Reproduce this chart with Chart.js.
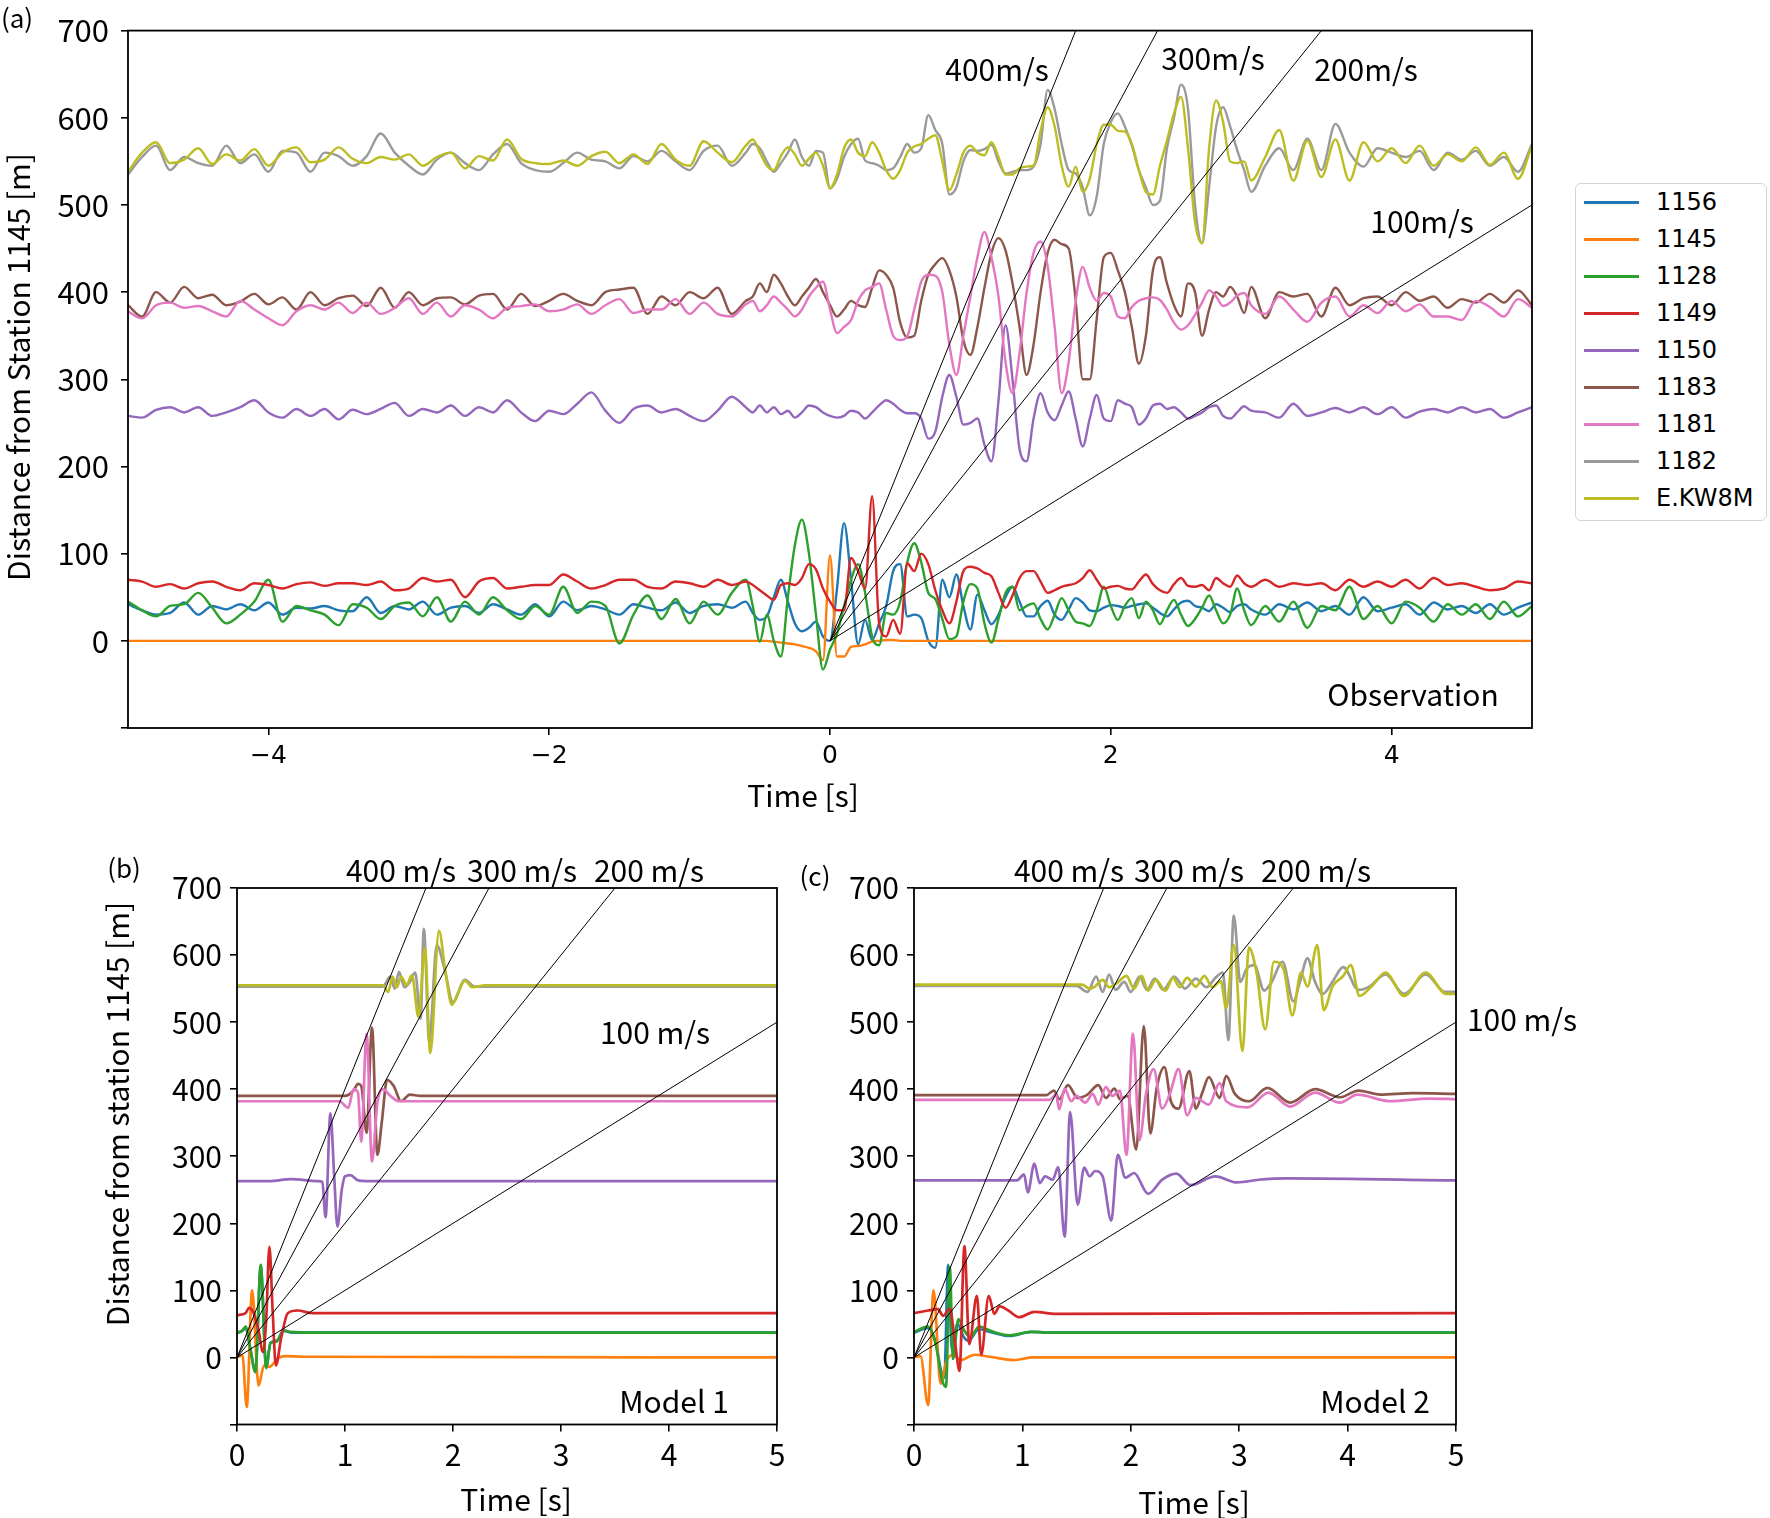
<!DOCTYPE html>
<html>
<head>
<meta charset="utf-8">
<script src="https://cdn.jsdelivr.net/npm/chart.js@4.4.1/dist/chart.umd.min.js"></script>
<style>
  body { margin: 0; background: #fff; }
  #page { position: relative; width: 1770px; height: 1518px; overflow: hidden; color: #000;
          font-family: 'Noto Sans CJK JP', 'Noto Sans', sans-serif; }
  canvas { position: absolute; }
  .lbl { position: absolute; transform: translate(-50%, -50%); white-space: nowrap; font-size: 30px; line-height: 1; }
  .ylab { transform: translate(-50%, -50%) rotate(-90deg); }
  #legend { position: absolute; left: 1575px; top: 183px; width: 192px; height: 338px; box-sizing: border-box;
            border: 1px solid #d4d4d4; border-radius: 6px; font-family: 'DejaVu Sans', sans-serif; font-size: 24px; }
  #legend div { position: relative; height: 37px; line-height: 37px; }
  #legend span.sw { position: absolute; left: 8px; top: 17px; width: 55px; height: 2.6px; }
  #legend span.tx { position: absolute; left: 80px; top: 0; }
</style>
</head>
<body>
<div id="page">
  <canvas id="obs" width="1570" height="820" style="left:0;top:0"></canvas>
  <canvas id="mod1" width="800" height="640" style="left:0;top:850px"></canvas>
  <canvas id="mod2" width="700" height="640" style="left:800px;top:850px"></canvas>
  <div id="legend"></div>

  <div class="lbl" style="left:17px;top:17px;font-size:26px">(a)</div>
  <div class="lbl ylab" style="left:17px;top:367px">Distance from Station 1145 [m]</div>
  <div class="lbl" style="left:803px;top:794px">Time [s]</div>
  <div class="lbl" style="left:997px;top:68px">400m/s</div>
  <div class="lbl" style="left:1213px;top:57px">300m/s</div>
  <div class="lbl" style="left:1366px;top:68px">200m/s</div>
  <div class="lbl" style="left:1422px;top:220px">100m/s</div>
  <div class="lbl" style="left:1413px;top:693px">Observation</div>

  <div class="lbl" style="left:124px;top:867px;font-size:26px">(b)</div>
  <div class="lbl ylab" style="left:116px;top:1114px">Distance from station 1145 [m]</div>
  <div class="lbl" style="left:516px;top:1498px">Time [s]</div>
  <div class="lbl" style="left:401px;top:869px">400 m/s</div>
  <div class="lbl" style="left:522px;top:869px">300 m/s</div>
  <div class="lbl" style="left:649px;top:869px">200 m/s</div>
  <div class="lbl" style="left:655px;top:1031px">100 m/s</div>
  <div class="lbl" style="left:674px;top:1400px">Model 1</div>

  <div class="lbl" style="left:815px;top:875px;font-size:26px">(c)</div>
  <div class="lbl" style="left:1194px;top:1501px">Time [s]</div>
  <div class="lbl" style="left:1069px;top:869px">400 m/s</div>
  <div class="lbl" style="left:1189px;top:869px">300 m/s</div>
  <div class="lbl" style="left:1316px;top:869px">200 m/s</div>
  <div class="lbl" style="left:1522px;top:1018px">100 m/s</div>
  <div class="lbl" style="left:1375px;top:1400px">Model 2</div>
</div>
<script>
// stations, in plotting order, with their matplotlib colours
const stations = ['1156', '1145', '1128', '1149', '1150', '1183', '1181', '1182', 'E.KW8M'];
const colors = ['#1f77b4', '#ff7f0e', '#2ca02c', '#d62728', '#9467bd', '#8c564b', '#e377c2', '#9a9a9a', '#bcbd22'];
const velocities = [400, 300, 200, 100];   // reference apparent velocities, m/s

const yTicks = [-100, 0, 100, 200, 300, 400, 500, 600, 700];
const xTicksObs = [-4, -2, 0, 2, 4];
const xTicksModel = [0, 1, 2, 3, 4, 5];

// ---- (a) observation: sample times [s] and traces [m] ----
const tObs = [
  -5.0, -4.9, -4.8, -4.7, -4.6, -4.5, -4.4, -4.3, -4.2, -4.1,
  -4.0, -3.9, -3.8, -3.7, -3.6, -3.5, -3.4, -3.3, -3.2, -3.1,
  -3.0, -2.9, -2.8, -2.7, -2.6, -2.5, -2.4, -2.3, -2.2, -2.1,
  -2.0, -1.9, -1.8, -1.7, -1.6, -1.5, -1.4, -1.3, -1.2, -1.1,
  -1.0, -0.9, -0.8, -0.7, -0.6,
  -0.55, -0.5, -0.45, -0.4, -0.35, -0.3, -0.25, -0.2, -0.15, -0.1,
  -0.05, 0, 0.05, 0.1, 0.15, 0.2, 0.25, 0.3, 0.35, 0.4,
  0.45, 0.5, 0.55, 0.6, 0.65, 0.7, 0.75, 0.8, 0.85, 0.9,
  0.95, 1.0, 1.05, 1.1, 1.15, 1.2, 1.25, 1.3, 1.35, 1.4,
  1.45, 1.5, 1.55, 1.6, 1.65, 1.7, 1.75, 1.8, 1.85, 1.9,
  1.95, 2.0, 2.05, 2.1, 2.15, 2.2, 2.25, 2.3, 2.35, 2.4,
  2.45, 2.5, 2.55, 2.6, 2.65, 2.7, 2.75, 2.8, 2.85, 2.9,
  2.95, 3.0,
  3.1, 3.2, 3.3, 3.4, 3.5, 3.6, 3.7, 3.8, 3.9, 4.0,
  4.1, 4.2, 4.3, 4.4, 4.5, 4.6, 4.7, 4.8, 4.9, 5.0
];
const obs1156 = [
  42, 35, 30, 32, 44, 30, 40, 36, 42, 35,
  44, 30, 38, 37, 40, 35, 34, 50, 32, 40,
  36, 45, 30, 38, 40, 32, 42, 36, 30, 42,
  28, 45, 35, 40, 36, 30, 42, 38, 35, 44,
  32, 40, 42, 38, 45,
  32, 24, 28, 50, 70, 45, 20, 11, 15, 22,
  5, 0, 60, 135, 70, -4, 24, 1, 20, 40,
  80, 88, 28, 30, 26, 0, -8, 70, 50, 76,
  40, 13, 53, 35, 19, 30, 50, 62, 45, 28,
  28, 40, 46, 30, 24, 36, 49, 44, 35, 34,
  38, 41, 40, 38, 40, 42, 43, 38, 32, 28,
  36, 44, 46, 40, 38, 34, 42, 38, 33, 40,
  42, 36,
  30, 42, 36, 44, 34, 40, 30, 50, 34, 38,
  42, 30, 44, 36, 40, 32, 42, 30, 38, 44
];
const obs1145 = [
  0, 0, 0, 0, 0, 0, 0, 0, 0, 0,
  0, 0, 0, 0, 0, 0, 0, 0, 0, 0,
  0, 0, 0, 0, 0, 0, 0, 0, 0, 0,
  0, 0, 0, 0, 0, 0, 0, 0, 0, 0,
  0, 0, 0, 0, 0,
  0, 0, 0, -1, -2, -3, -4, -6, -8, -12,
  -22, 98, -18, -18, -7, -6, -4, -1, 0, 1,
  1, 0, 0, 0, 0, 0, 0, 0, 0, 0,
  0, 0, 0, 0, 0, 0, 0, 0, 0, 0,
  0, 0, 0, 0, 0, 0, 0, 0, 0, 0,
  0, 0, 0, 0, 0, 0, 0, 0, 0, 0,
  0, 0, 0, 0, 0, 0, 0, 0, 0, 0,
  0, 0,
  0, 0, 0, 0, 0, 0, 0, 0, 0, 0,
  0, 0, 0, 0, 0, 0, 0, 0, 0, 0
];
const obs1128 = [
  45, 35, 28, 40, 42, 55, 38, 20, 30, 45,
  70, 22, 40, 35, 30, 18, 42, 38, 25, 40,
  44, 28, 50, 22, 45, 30, 50, 35, 25, 40,
  30, 62, 32, 45, 40, -3, 30, 52, 25, 48,
  20, 45, 30, 55, 70,
  40, -1, 30, 0, -18, 50, 110, 139, 100, 30,
  -33, -10, 8, 40, 70, 88, 55, 5, -5, 32,
  30, 45, 90, 112, 90, 55, 48, 25, 2, 5,
  45, 65, 60, 20, -2, 25, 55, 62, 35, 40,
  43, 25, 13, 30, 49, 35, 22, 20, 17, 35,
  62, 40, 24, 40, 49, 26, 45, 35, 19, 35,
  47, 30, 17, 25, 38, 52, 35, 20, 30, 60,
  35, 18,
  40, 22, 45, 15, 40, 35, 62, 25, 40, 20,
  45, 38, 22, 42, 30, 42, 25, 45, 28, 40
];
const obs1149 = [
  70, 68, 62, 65, 60, 66, 68, 62, 58, 66,
  64, 60, 65, 67, 63, 66, 66, 64, 68, 58,
  60, 72, 68, 70, 50, 68, 72, 60, 62, 64,
  64, 76, 68, 60, 64, 70, 70, 62, 60, 68,
  66, 62, 70, 64, 68,
  64, 58, 52, 47, 64, 66, 64, 72, 88, 82,
  60, 45, 35, 35, 95, 80, 60, 166, 20, 5,
  24, 8, 89, 80, 100, 88, 58, 35, 20, 45,
  80, 85, 83, 78, 74, 55, 38, 52, 72, 80,
  80, 68, 55, 58, 62, 64, 66, 72, 81, 70,
  60, 62, 63, 60, 59, 68, 76, 65, 58, 55,
  65, 72, 63, 62, 64, 58, 72, 66, 62, 75,
  66, 62,
  70, 62, 66, 64, 66, 58, 70, 62, 68, 62,
  70, 60, 72, 64, 66, 62, 58, 60, 68, 66
];
const obs1150 = [
  258, 256, 265, 268, 262, 268, 258, 262, 268, 276,
  262, 256, 266, 258, 266, 254, 265, 260, 266, 273,
  258, 266, 262, 270, 258, 268, 262, 276, 262, 252,
  264, 260, 272, 285, 264, 250, 266, 270, 262, 266,
  258, 252, 264, 280, 268,
  262, 270, 262, 268, 260, 264, 256, 262, 270, 268,
  262, 258, 256, 258, 264, 262, 255, 262, 270, 276,
  272, 265, 261, 261, 255, 232, 240, 280, 305, 280,
  248, 250, 255, 225, 206, 275, 362, 300, 220, 206,
  255, 284, 262, 253, 270, 286, 255, 223, 255, 282,
  255, 252, 276, 272, 268, 248, 255, 270, 272, 266,
  268, 262, 255, 258, 262, 268, 270, 258, 255, 262,
  269, 264,
  262, 256, 272, 258, 262, 267, 262, 268, 260, 268,
  256, 263, 266, 262, 268, 262, 266, 256, 262, 268
];
const obs1183 = [
  385, 372, 400, 388, 406, 393, 397, 385, 389, 398,
  386, 394, 380, 400, 385, 393, 396, 384, 405, 382,
  400, 385, 393, 394, 386, 396, 398, 380, 398, 384,
  390, 398, 390, 385, 400, 403, 405, 375, 395, 385,
  400, 393, 405, 375, 390,
  395, 410, 400, 420, 410, 395, 385, 395, 405, 415,
  400, 385, 372, 380, 390, 385, 383, 405, 425, 420,
  405, 365, 348, 350, 390, 420, 432, 439, 425, 395,
  345, 328, 360, 405, 445, 462, 448, 410, 360, 305,
  340, 400, 445, 460, 455, 450, 390, 300, 300, 370,
  440, 445, 425, 400, 360, 318, 350, 425, 440, 410,
  385, 372, 410, 400, 350, 380, 400, 395, 406, 395,
  376, 406,
  370, 400, 395, 398, 372, 405, 385, 393, 395, 385,
  400, 390, 395, 382, 392, 388, 398, 388, 402, 385
];
const obs1181 = [
  378, 370, 385, 388, 382, 384, 378, 372, 390, 380,
  370, 362, 378, 385, 380, 388, 376, 388, 375, 382,
  393, 375, 388, 372, 385, 380, 370, 382, 384, 386,
  378, 380, 386, 375, 385, 392, 376, 380, 380, 392,
  375, 388, 375, 372, 386,
  390, 378, 385, 395, 388, 380, 372, 380, 395, 405,
  412, 380, 353, 360, 368, 390, 402, 406, 410, 380,
  350, 345, 349, 380, 412, 420, 419, 400, 340, 305,
  350, 395, 440, 469, 440, 395, 320, 284, 330, 399,
  445, 458, 430, 360, 284, 320, 390, 429, 405, 390,
  399, 395, 372, 370, 383, 390, 393, 394, 391, 380,
  365, 357, 362, 374, 388, 402, 395, 384, 388, 396,
  399, 385,
  375, 395, 380, 366, 388, 395, 372, 385, 376, 390,
  378, 386, 372, 372, 368, 390, 383, 372, 392, 382
];
const obs1182 = [
  535, 555, 568, 540, 555, 548, 545, 568, 548, 558,
  538, 562, 560, 538, 560, 556, 545, 556, 582, 560,
  545, 535, 552, 560, 548, 540, 558, 570, 548, 540,
  538, 548, 560, 552, 550, 542, 556, 550, 562, 550,
  540, 562, 568, 545, 560,
  570, 565, 550, 538, 548, 560, 575, 555, 545, 562,
  560, 519, 530, 555, 570, 576, 551, 548, 545, 540,
  542, 555, 570, 560, 565, 603, 586, 570, 512, 520,
  550, 563, 562, 564, 569, 550, 536, 538, 540, 540,
  544, 570, 632, 610, 570, 540, 536, 520, 488, 510,
  570, 595, 605, 590, 568, 540, 520, 500, 505, 565,
  600, 638, 610, 500, 456, 520, 590, 612, 590, 563,
  540, 515,
  545, 565, 540, 576, 540, 593, 560, 544, 565, 560,
  555, 562, 540, 560, 552, 562, 545, 555, 538, 570
];
const obsKW8M = [
  538, 560, 572, 548, 552, 565, 547, 558, 551, 564,
  545, 560, 566, 549, 552, 566, 553, 548, 555, 552,
  558, 545, 555, 560, 542, 556, 551, 575, 553, 548,
  547, 551, 545, 556, 561, 548, 558, 547, 570, 552,
  545, 573, 560, 549, 568,
  575, 560, 545, 540, 556, 566, 558, 545, 553, 560,
  545, 519, 535, 565, 575, 560, 556, 572, 560, 540,
  530, 540, 560, 567, 570, 576, 580, 550, 517, 535,
  560, 568, 560, 557, 572, 555, 535, 535, 542, 544,
  545, 585, 612, 590, 545, 521, 544, 515, 530, 570,
  592, 592, 585, 584, 570, 540, 515, 512, 545, 574,
  605, 624, 565, 480, 456, 565, 620, 595, 550, 548,
  550, 528,
  555, 586, 528, 574, 532, 575, 528, 572, 550, 565,
  548, 568, 545, 558, 550, 566, 546, 560, 530, 568
];

// ---- (b) Model 1: per-trace sample times [s] and values [m] ----
const mod1T1156 = [0, 0.05, 0.08, 0.12, 0.17, 0.22, 0.27, 0.31, 0.37, 0.43, 0.5, 0.7, 5];
const mod1Y1156 = [37, 40, 44, 16, -20, 135, -14, 22, 25, 40, 37, 37, 37];
const mod1T1145 = [0, 0.05, 0.09, 0.14, 0.2, 0.25, 0.3, 0.38, 0.45, 0.6, 5];
const mod1Y1145 = [0, 3, -74, 100, -42, -12, -14, -1, 2, 1, 0];
const mod1T1128 = [0, 0.05, 0.08, 0.12, 0.17, 0.22, 0.27, 0.31, 0.37, 0.43, 0.5, 0.7, 5];
const mod1Y1128 = [36, 40, 46, 16, -22, 138, -16, 21, 24, 40, 38, 37, 37];
const mod1T1149 = [0, 0.08, 0.11, 0.15, 0.2, 0.24, 0.27, 0.3, 0.33, 0.36, 0.41, 0.47, 0.56, 0.7, 5];
const mod1Y1149 = [63, 66, 74, 68, 40, 8, 55, 165, 70, -12, 30, 66, 70, 66, 66];
const mod1T1150 = [0, 0.3, 0.5, 0.75, 0.79, 0.82, 0.865, 0.9, 0.93, 0.97, 1.0, 1.05, 1.12, 1.2, 5];
const mod1Y1150 = [263, 263, 266, 263, 262, 209, 364, 270, 195, 250, 270, 272, 264, 263, 263];
const mod1T1183 = [0, 1.0, 1.08, 1.12, 1.15, 1.2, 1.25, 1.3, 1.34, 1.39, 1.45, 1.52, 1.6, 1.7, 5];
const mod1Y1183 = [390, 390, 398, 408, 405, 335, 492, 302, 350, 414, 405, 382, 392, 390, 390];
const mod1T1181 = [0, 0.95, 1.03, 1.08, 1.12, 1.15, 1.2, 1.25, 1.3, 1.35, 1.42, 1.5, 5];
const mod1Y1181 = [382, 382, 372, 400, 395, 322, 482, 292, 380, 400, 390, 382, 382];
const mod1T1182 = [0, 1.35, 1.42, 1.46, 1.5, 1.55, 1.6, 1.65, 1.7, 1.73, 1.78, 1.85, 1.92, 2.0, 2.11, 2.2, 5];
const mod1Y1182 = [553, 553, 568, 550, 575, 552, 560, 574, 505, 639, 470, 615, 580, 530, 563, 553, 553];
const mod1TKW8M = [0, 1.35, 1.4, 1.44, 1.48, 1.52, 1.57, 1.62, 1.68, 1.74, 1.79, 1.87, 1.93, 1.99, 2.05, 2.11, 2.18, 2.3, 5];
const mod1YKW8M = [555, 555, 545, 568, 552, 568, 555, 570, 508, 610, 454, 636, 575, 526, 545, 562, 552, 555, 555];

// ---- (c) Model 2 ----
const mod2T1156 = [0, 0.13, 0.2, 0.25, 0.28, 0.315, 0.35, 0.4, 0.46, 0.5, 0.6, 0.7, 0.88, 1.08, 1.3, 5];
const mod2Y1156 = [37, 44, 22, -20, -30, 138, 10, 50, 30, 25, 42, 38, 32, 38, 37, 37];
const mod2T1145 = [0, 0.06, 0.13, 0.18, 0.245, 0.3, 0.36, 0.43, 0.56, 0.7, 0.92, 1.1, 5];
const mod2Y1145 = [0, 2, -71, 100, -39, -5, 4, -4, 4, 1, -4, 0, 0];
const mod2T1128 = [0, 0.13, 0.2, 0.26, 0.295, 0.33, 0.36, 0.41, 0.46, 0.52, 0.6, 0.7, 0.88, 1.08, 1.3, 5];
const mod2Y1128 = [38, 46, 20, -34, -44, 135, -2, 57, 41, 30, 46, 40, 33, 38, 37, 37];
const mod2T1149 = [0, 0.13, 0.22, 0.27, 0.33, 0.38, 0.42, 0.465, 0.51, 0.58, 0.62, 0.69, 0.74, 0.79, 0.87, 0.97, 1.11, 1.31, 5];
const mod2Y1149 = [66, 70, 72, 62, 73, 20, -20, 166, 20, 92, 4, 92, 65, 76, 70, 60, 68, 65, 66];
const mod2T1150 = [0, 0.95, 1.015, 1.05, 1.11, 1.16, 1.21, 1.28, 1.33, 1.39,
  1.44, 1.51, 1.57, 1.62, 1.67, 1.74, 1.82, 1.88, 1.95, 2.03,
  2.16, 2.29, 2.42, 2.55, 2.78, 2.98, 3.18, 3.44, 5];
const mod2Y1150 = [264, 264, 273, 246, 289, 260, 270, 265, 284, 180,
  366, 228, 283, 270, 278, 270, 204, 302, 268, 275,
  244, 265, 274, 257, 270, 261, 265, 267, 264];
const mod2T1183 = [0, 1.22, 1.29, 1.34, 1.42, 1.51, 1.6, 1.7, 1.77, 1.85,
  1.9, 1.97, 2.05, 2.12, 2.18, 2.24, 2.31, 2.37, 2.44, 2.54,
  2.6, 2.66, 2.72, 2.82, 2.88, 2.96, 3.09, 3.26, 3.47, 3.7,
  3.93, 4.1, 4.3, 4.6, 5];
const mod2Y1183 = [391, 391, 398, 385, 406, 387, 392, 406, 387, 401,
  385, 390, 310, 494, 334, 403, 433, 382, 371, 427,
  371, 395, 418, 387, 420, 393, 382, 402, 380, 400,
  388, 398, 392, 394, 393];
const mod2T1181 = [0, 1.25, 1.31, 1.34, 1.39, 1.45, 1.5, 1.58, 1.65, 1.7,
  1.77, 1.83, 1.9, 1.96, 2.02, 2.08, 2.14, 2.21, 2.29, 2.36,
  2.44, 2.52, 2.6, 2.72, 2.82, 2.88, 3.08, 3.27, 3.47, 3.7,
  3.93, 4.09, 4.39, 4.75, 5];
const mod2Y1181 = [384, 384, 392, 370, 401, 382, 390, 380, 393, 377,
  403, 390, 398, 302, 483, 324, 393, 430, 371, 393,
  430, 361, 387, 377, 409, 382, 373, 395, 374, 395,
  380, 392, 382, 386, 385];
const mod2T1182 = [0, 1.5, 1.6, 1.68, 1.74, 1.8, 1.86, 1.94, 2.0, 2.08,
  2.15, 2.22, 2.3, 2.4, 2.5, 2.6, 2.7, 2.78, 2.85, 2.9,
  2.95, 3.01, 3.07, 3.14, 3.23, 3.3, 3.4, 3.5, 3.56, 3.63,
  3.7, 3.77, 3.86, 3.96, 4.1, 4.2, 4.35, 4.52, 4.72, 4.9, 5];
const mod2Y1182 = [554, 554, 545, 568, 545, 571, 548, 560, 545, 568,
  548, 565, 548, 568, 550, 565, 552, 566, 574, 473,
  659, 560, 580, 585, 547, 560, 590, 531, 560, 595,
  560, 542, 560, 582, 548, 553, 571, 542, 571, 545, 545];
const mod2TKW8M = [0, 1.55, 1.62, 1.67, 1.74, 1.8, 1.87, 1.96, 2.03, 2.1,
  2.16, 2.23, 2.32, 2.39, 2.45, 2.52, 2.6, 2.68, 2.75, 2.83,
  2.88, 2.95, 3.03, 3.09, 3.16, 3.24, 3.32, 3.41, 3.49, 3.57,
  3.63, 3.72, 3.78, 3.86, 3.96, 4.03, 4.11, 4.22, 4.35, 4.52,
  4.72, 4.91, 5];
const mod2YKW8M = [556, 556, 550, 553, 563, 552, 558, 569, 550, 569,
  547, 563, 547, 566, 552, 566, 553, 569, 552, 561,
  521, 615, 457, 611, 574, 489, 590, 579, 510, 574,
  553, 615, 518, 553, 569, 585, 539, 553, 574, 539,
  574, 542, 542];

const obsY = [obs1156, obs1145, obs1128, obs1149, obs1150, obs1183, obs1181, obs1182, obsKW8M];
const obsT = stations.map(() => tObs);   // all observed traces share one time axis
const mod1T = [mod1T1156, mod1T1145, mod1T1128, mod1T1149, mod1T1150, mod1T1183, mod1T1181, mod1T1182, mod1TKW8M];
const mod1Y = [mod1Y1156, mod1Y1145, mod1Y1128, mod1Y1149, mod1Y1150, mod1Y1183, mod1Y1181, mod1Y1182, mod1YKW8M];
const mod2T = [mod2T1156, mod2T1145, mod2T1128, mod2T1149, mod2T1150, mod2T1183, mod2T1181, mod2T1182, mod2TKW8M];
const mod2Y = [mod2Y1156, mod2Y1145, mod2Y1128, mod2Y1149, mod2Y1150, mod2Y1183, mod2Y1181, mod2Y1182, mod2YKW8M];

Chart.defaults.font.family = "'Noto Sans CJK JP', 'Noto Sans', sans-serif";
Chart.defaults.color = '#000';

const zip = (ts, ys) => ts.map((t, i) => ({ x: t, y: ys[i] }));

function traceSets(ts, ys, width) {
  return stations.map((name, i) => ({
    label: name,
    data: zip(ts[i], ys[i]),
    borderColor: colors[i],
    borderWidth: width,
    pointRadius: 0,
    cubicInterpolationMode: 'monotone',
    order: 100 - i   // later stations on top, as in matplotlib
  }));
}

function velocitySets(xMax) {
  // straight lines distance = v * t, from the origin; clipped by the plot area
  return velocities.map(v => ({
    label: v + ' m/s',
    data: [{ x: 0, y: 0 }, { x: xMax, y: v * xMax }],
    borderColor: '#000',
    borderWidth: 1,
    pointRadius: 0,
    tension: 0,
    order: 0
  }));
}

const framePlugin = {
  id: 'frame',
  afterDatasetsDraw(chart) {
    const { ctx, chartArea: a } = chart;
    ctx.save();
    ctx.strokeStyle = '#000';
    ctx.lineWidth = 1.8;
    ctx.strokeRect(a.left, a.top, a.right - a.left, a.bottom - a.top);
    ctx.restore();
  }
};

function makeChart(id, datasets, o) {
  return new Chart(document.getElementById(id), {
    type: 'line',
    data: { datasets },
    plugins: [framePlugin],
    options: {
      responsive: false,
      devicePixelRatio: 1,
      animation: false,
      layout: { padding: o.padding },
      plugins: { legend: { display: false }, tooltip: { enabled: false } },
      scales: {
        x: {
          type: 'linear', min: o.xMin, max: o.xMax,
          afterBuildTicks: s => { s.ticks = o.xTicks.map(v => ({ value: v })); },
          afterFit: s => { s.height = o.xAxisH; },
          border: { display: false },
          grid: { drawOnChartArea: false, tickLength: 7, color: '#000', lineWidth: 1.6 },
          ticks: {
            autoSkip: false, maxRotation: 0, padding: o.xPad, color: '#000', font: o.xFont,
            callback: v => v < 0 ? '\u2212' + Math.abs(v) : String(v)
          }
        },
        y: {
          type: 'linear', min: -100, max: 700,
          afterBuildTicks: s => { s.ticks = yTicks.map(v => ({ value: v })); },
          afterFit: s => { s.width = o.yAxisW; },
          border: { display: false },
          grid: { drawOnChartArea: false, tickLength: 7, color: '#000', lineWidth: 1.6 },
          ticks: {
            autoSkip: false, padding: o.yPad, color: '#000', font: o.yFont,
            callback: v => v < 0 ? '' : String(v)
          }
        }
      }
    }
  });
}

makeChart('obs', traceSets(obsT, obsY, 2.4).concat(velocitySets(5)), {
  xMin: -5, xMax: 5, xTicks: xTicksObs,
  padding: { left: 0, top: 30, right: 38, bottom: 0 },
  yAxisW: 128, xAxisH: 92, xPad: 6, yPad: 12,
  xFont: { family: "'DejaVu Sans', sans-serif", size: 25 },
  yFont: { size: 31 }
});

makeChart('mod1', traceSets(mod1T, mod1Y, 2.7).concat(velocitySets(5)), {
  xMin: 0, xMax: 5, xTicks: xTicksModel,
  padding: { left: 0, top: 38, right: 23, bottom: 0 },
  yAxisW: 237, xAxisH: 65.5, xPad: 5, yPad: 8,
  xFont: { size: 30 }, yFont: { size: 30 }
});

makeChart('mod2', traceSets(mod2T, mod2Y, 2.7).concat(velocitySets(5)), {
  xMin: 0, xMax: 5, xTicks: xTicksModel,
  padding: { left: 0, top: 38, right: 44, bottom: 0 },
  yAxisW: 114, xAxisH: 65.5, xPad: 5, yPad: 8,
  xFont: { size: 30 }, yFont: { size: 30 }
});

// legend for panel (a), built from the station list
const legend = document.getElementById('legend');
stations.forEach((name, i) => {
  const row = document.createElement('div');
  row.innerHTML = '<span class="sw" style="background:' + colors[i] + '"></span><span class="tx">' + name + '</span>';
  legend.appendChild(row);
});
</script>
</body>
</html>
